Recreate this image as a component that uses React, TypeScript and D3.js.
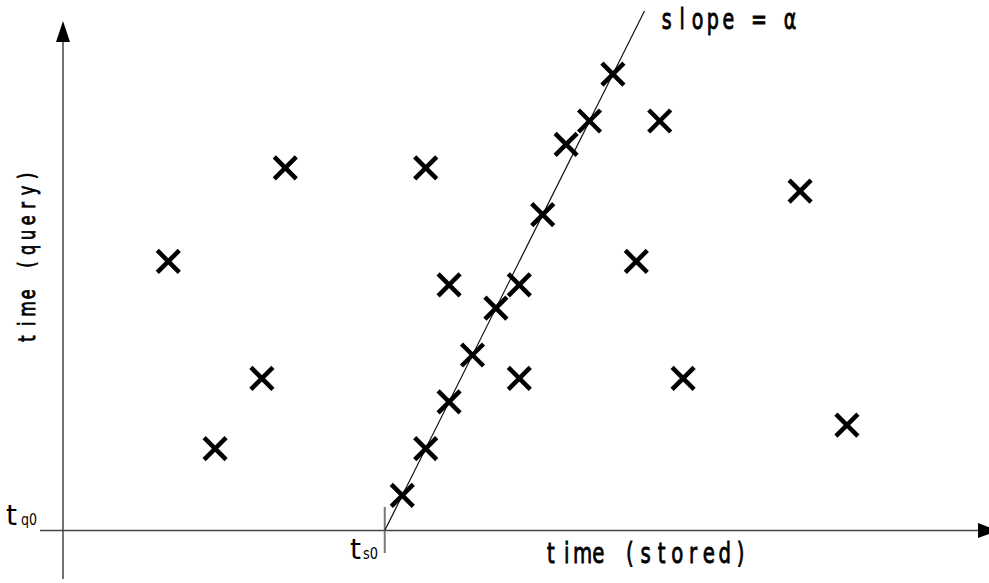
import React from "react";
import * as d3 from "d3";

// Matched points: (stored time, query time) in grid units
const storedTimes = [4.5, 6.5, 8.5, 9.5, 14.5, 15.5, 15.5, 16.5, 16.5, 17.5, 18.5, 19.5, 19.5, 20.5, 21.5, 22.5, 23.5, 24.5, 25.5, 26.5, 31.5, 33.5];
const queryTimes = [11.5, 3.5, 6.5, 15.5, 1.5, 3.5, 15.5, 10.5, 5.5, 7.5, 9.5, 10.5, 6.5, 13.5, 16.5, 17.5, 19.5, 11.5, 17.5, 6.5, 14.5, 4.5];

// Diagonal offset line
const ts0 = 13.75;
const slope = 2;
const lineTop = 22.2;

const axisLabels = { x: "time (stored)", y: "time (query)", slope: "slope = α" };

const W = 989;
const H = 583;
const FONT = "'DejaVu Sans', 'Noto Sans', sans-serif";

// Fixed-pitch text: each character centred in its own cell and narrowed
function MonoText(props: { text: string; x: number; y: number; cell: number; size: number; sx: number }) {
  const { text, x, y, cell, size, sx } = props;
  return (
    <g>
      {Array.from(text).map((ch, i) =>
        ch === " " ? null : (
          <text
            key={i}
            transform={`translate(${x + (i + 0.5) * cell},${y}) scale(${sx},1)`}
            textAnchor="middle"
            fontFamily={FONT}
            fontSize={size}
            fill="#000"
            stroke="#000"
            strokeWidth={0.9}
          >
            {ch}
          </text>
        )
      )}
    </g>
  );
}

export default function App() {
  const x = d3.scaleLinear().domain([0, 40]).range([63, 63 + 40 * 23.4]);
  const y = d3.scaleLinear().domain([0, 20]).range([530.5, 530.5 - 20 * 23.4]);
  const x0 = x(0);
  const y0 = y(0);
  const arm = 11;
  const linePts: [number, number][] = [
    [ts0, 0],
    [ts0 + lineTop / slope, lineTop],
  ];
  const line = d3
    .line<[number, number]>()
    .x((d) => x(d[0]))
    .y((d) => y(d[1]));

  return (
    <svg width={W} height={H} style={{ position: "absolute", left: 0, top: 0, background: "#fff" }}>
      {/* axes */}
      <line x1={x0} x2={x0} y1={579} y2={40} stroke="#444" strokeWidth={1.5} />
      <polygon points={`${x0},21 ${x0 - 7},42 ${x0 + 7},42`} fill="#000" />
      <line x1={40} x2={980} y1={y0} y2={y0} stroke="#444" strokeWidth={1.5} />
      <polygon points={`978,${y0 - 7.5} 978,${y0 + 7.5} 998,${y0}`} fill="#000" />

      {/* ts0 tick */}
      <line x1={x(ts0)} x2={x(ts0)} y1={507} y2={553} stroke="#777" strokeWidth={2} />

      {/* slope line */}
      <path d={line(linePts) || ""} fill="none" stroke="#111" strokeWidth={1.2} />

      {/* crosses */}
      {storedTimes.map((s, i) => {
        const cx = x(s);
        const cy = y(queryTimes[i]);
        return (
          <g key={i} stroke="#000" strokeWidth={4.5}>
            <line x1={cx - arm} y1={cy - arm} x2={cx + arm} y2={cy + arm} />
            <line x1={cx - arm} y1={cy + arm} x2={cx + arm} y2={cy - arm} />
          </g>
        );
      })}

      {/* origin labels */}
      <text x={6} y={525} fontFamily={FONT} fontSize={28} fill="#000" textLength={11} lengthAdjust="spacingAndGlyphs">t</text>
      <text x={21} y={525} fontFamily={FONT} fontSize={16} fill="#000" textLength={16} lengthAdjust="spacingAndGlyphs">q0</text>
      <text x={350} y={559} fontFamily={FONT} fontSize={28} fill="#000" textLength={11} lengthAdjust="spacingAndGlyphs">t</text>
      <text x={363} y={559} fontFamily={FONT} fontSize={15} fill="#000" textLength={15} lengthAdjust="spacingAndGlyphs">s0</text>

      {/* axis titles */}
      <MonoText text={axisLabels.x} x={543} y={563} cell={15.8} size={29} sx={0.68} />
      <g transform="translate(35,345) rotate(-90)">
        <MonoText text={axisLabels.y} x={-1} y={0} cell={14.8} size={23} sx={0.7} />
      </g>
      <MonoText text={axisLabels.slope} x={659} y={29} cell={15.4} size={28} sx={0.68} />
    </svg>
  );
}
